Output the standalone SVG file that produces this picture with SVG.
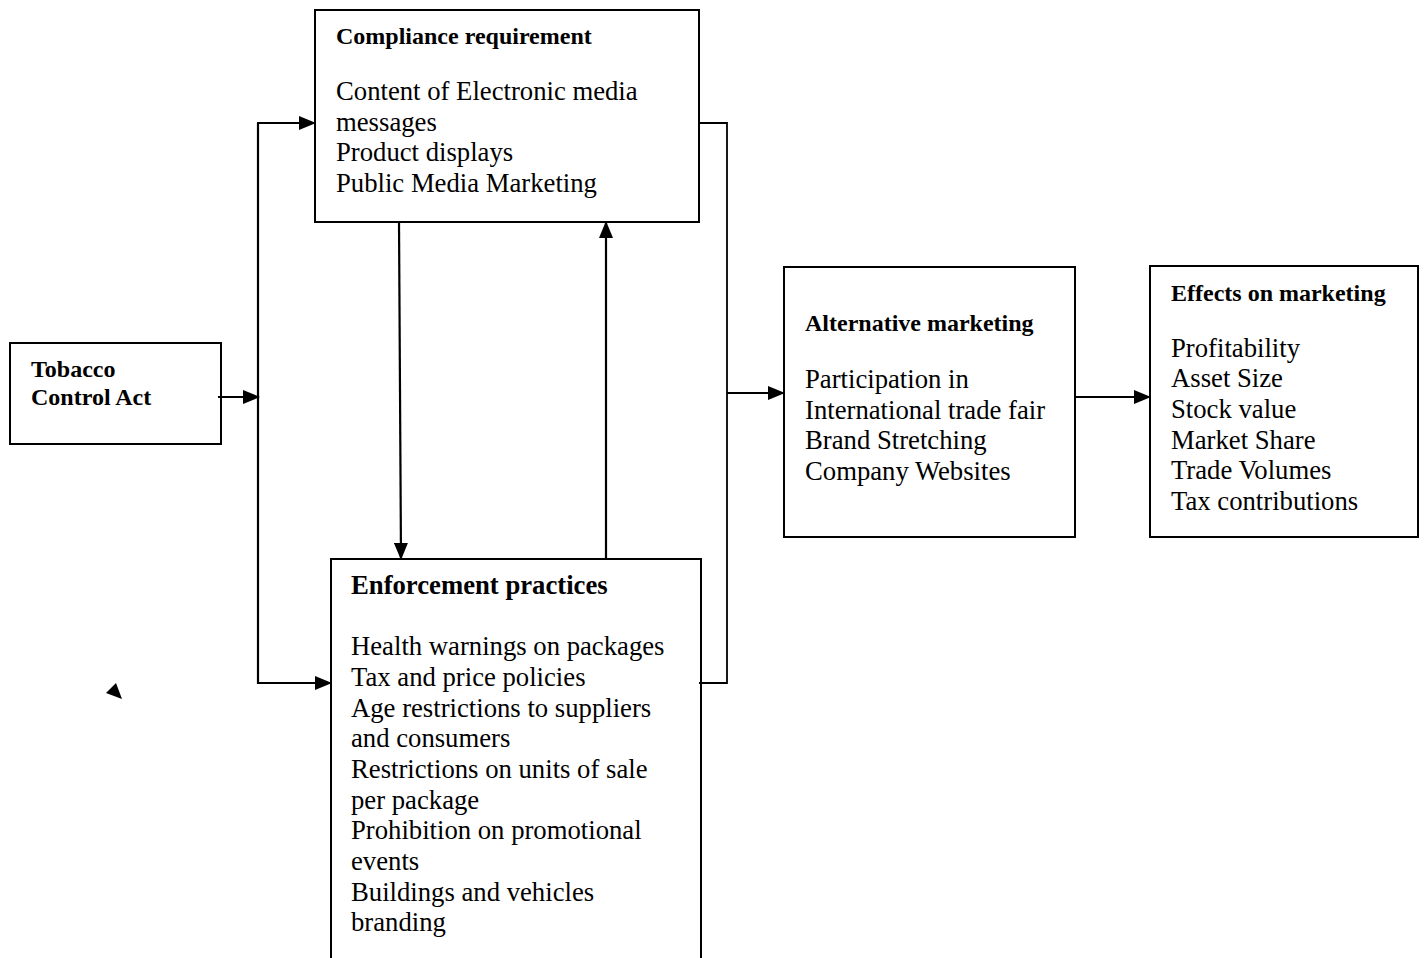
<svg xmlns="http://www.w3.org/2000/svg" width="1424" height="958" viewBox="0 0 1424 958">
<defs>
<style>
.box{fill:#fff;stroke:#000;stroke-width:2}
.t{font-family:"Liberation Serif","Times New Roman",serif;fill:#000}
.h{font-weight:bold;font-size:24px}
.b{font-size:26.7px}
.c{stroke:#000;stroke-width:2.2;fill:none}
.thin{stroke:#000;stroke-width:1.8;fill:none}
</style>
<marker id="ah" markerWidth="17" markerHeight="14" refX="16" refY="7" orient="auto" markerUnits="userSpaceOnUse">
<path d="M0,0 L17,7 L0,14 z" fill="#000"/>
</marker>
</defs>
<rect width="1424" height="958" fill="#fff"/>
<g id="tobacco">
<rect class="box" x="10" y="343" width="211" height="101"/>
<text class="t h" x="31" y="377">Tobacco</text>
<text class="t h" x="31" y="405">Control Act</text>
</g>
<g id="compliance">
<rect class="box" x="315" y="10" width="384" height="212"/>
<text class="t h" x="336" y="44">Compliance requirement</text>
<text class="t b" x="336" y="100">Content of Electronic media</text>
<text class="t b" x="336" y="131">messages</text>
<text class="t b" x="336" y="161">Product displays</text>
<text class="t b" x="336" y="192">Public Media Marketing</text>
</g>
<g id="enforcement">
<rect class="box" x="331" y="559" width="370" height="410"/>
<text class="t" x="351" y="594" font-weight="bold" font-size="26.7">Enforcement practices</text>
<text class="t b" x="351" y="655">Health warnings on packages</text>
<text class="t b" x="351" y="686">Tax and price policies</text>
<text class="t b" x="351" y="717">Age restrictions to suppliers</text>
<text class="t b" x="351" y="747">and consumers</text>
<text class="t b" x="351" y="778">Restrictions on units of sale</text>
<text class="t b" x="351" y="809">per package</text>
<text class="t b" x="351" y="839">Prohibition on promotional</text>
<text class="t b" x="351" y="870">events</text>
<text class="t b" x="351" y="901">Buildings and vehicles</text>
<text class="t b" x="351" y="931">branding</text>
</g>
<g id="alternative">
<rect class="box" x="784" y="267" width="291" height="270"/>
<text class="t h" x="805" y="331">Alternative marketing</text>
<text class="t b" x="805" y="388">Participation in</text>
<text class="t b" x="805" y="419">International trade fair</text>
<text class="t b" x="805" y="449">Brand Stretching</text>
<text class="t b" x="805" y="480">Company Websites</text>
</g>
<g id="effects">
<rect class="box" x="1150" y="266" width="268" height="271"/>
<text class="t h" x="1171" y="301">Effects on marketing</text>
<text class="t b" x="1171" y="357">Profitability</text>
<text class="t b" x="1171" y="387">Asset Size</text>
<text class="t b" x="1171" y="418">Stock value</text>
<text class="t b" x="1171" y="449">Market Share</text>
<text class="t b" x="1171" y="479">Trade Volumes</text>
<text class="t b" x="1171" y="510">Tax contributions</text>
</g>
<g id="connectors">
<line class="c" x1="218" y1="397" x2="259" y2="397" marker-end="url(#ah)"/>
<line class="c" x1="258" y1="123" x2="258" y2="684"/>
<line class="c" x1="257" y1="123" x2="315" y2="123" marker-end="url(#ah)"/>
<line class="c" x1="257" y1="683" x2="331" y2="683" marker-end="url(#ah)"/>
<line class="c" x1="399" y1="222" x2="401" y2="559" marker-end="url(#ah)"/>
<line class="c" x1="606" y1="559" x2="606" y2="222" marker-end="url(#ah)"/>
<polyline class="thin" points="699,123 727,123 727,683 699,683"/>
<line class="c" x1="727" y1="393" x2="784" y2="393" marker-end="url(#ah)"/>
<line class="c" x1="1075" y1="397" x2="1150" y2="397" marker-end="url(#ah)"/>
<polygon points="106,693 116,683 122,699" fill="#000"/>
</g>
</svg>
